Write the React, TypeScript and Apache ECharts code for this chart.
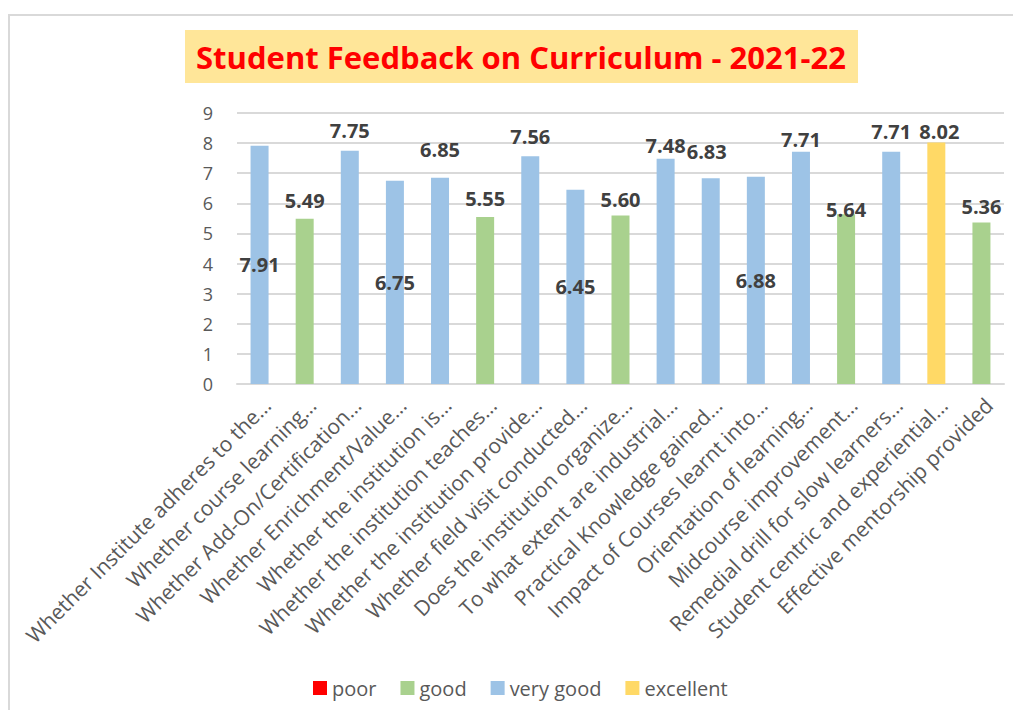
import React, { useEffect, useRef } from "react";
import * as echarts from "echarts";

const categories = [
  "Whether Institute adheres to the…",
  "Whether course learning…",
  "Whether Add-On/Certification…",
  "Whether Enrichment/Value…",
  "Whether the institution is…",
  "Whether the institution teaches…",
  "Whether the institution provide…",
  "Whether field visit conducted…",
  "Does the institution organize…",
  "To what extent are industrial…",
  "Practical Knowledge gained…",
  "Impact of Courses learnt into…",
  "Orientation of learning…",
  "Midcourse improvement…",
  "Remedial drill for slow learners…",
  "Student centric and experiential…",
  "Effective mentorship provided",
];

const scores = [7.91, 5.49, 7.75, 6.75, 6.85, 5.55, 7.56, 6.45, 5.6, 7.48, 6.83, 6.88, 7.71, 5.64, 7.71, 8.02, 5.36];

const ratings = [
  "very good", "good", "very good", "very good", "very good", "good", "very good", "very good",
  "good", "very good", "very good", "very good", "very good", "good", "very good", "excellent", "good",
];

const ratingNames = ["poor", "good", "very good", "excellent"];
const ratingColors = ["#FF0000", "#A9D18E", "#9DC3E6", "#FFD966"];

// label placement: null = centred inside the bar, otherwise [dx, dy] offset above the bar
const labelPlacement: (number[] | null)[] = [
  null, [0, -8], [0, -10], null, [0, -18], [0, -8], [0, -10], null,
  [0, -6], [0, -3], [-4, -17], null, [0, -2], [0, 5], [0, -10], [3, -1], [0, -6],
];

const FONT = "'Open Sans', sans-serif";

export default function App() {
  const ref = useRef<HTMLDivElement>(null);
  useEffect(() => {
    if (!ref.current) return;
    const chart = echarts.init(ref.current, null, { renderer: "svg" });
    const series = ratingNames.map((name, si) => ({
      name,
      type: "bar",
      stack: "total",
      barWidth: 18,
      itemStyle: { color: ratingColors[si] },
      data: scores.map((v, i) => {
        if (ratings[i] !== name) return null;
        const p = labelPlacement[i];
        return {
          value: v,
          label: p
            ? { show: true, position: "top", distance: 0, offset: p }
            : { show: true, position: "inside" },
        };
      }),
      label: {
        show: false,
        formatter: (prm: any) => Number(prm.value).toFixed(2),
        fontFamily: FONT,
        fontSize: 20,
        fontWeight: "bold",
        color: "#404040",
        lineHeight: 20,
      },
    }));
    chart.setOption({
      animation: false,
      textStyle: { fontFamily: FONT },
      graphic: [
        {
          type: "rect",
          silent: true,
          shape: { x: 1, y: 7, width: 3000, height: 3000 },
          style: { fill: "none", stroke: "#D9D9D9", lineWidth: 2 },
        },
        {
          type: "rect",
          silent: true,
          shape: { x: 177, y: 22, width: 673, height: 53 },
          style: { fill: "#FFE699" },
        },
        {
          type: "text",
          silent: true,
          x: 513,
          y: 49,
          style: {
            text: "Student Feedback on Curriculum - 2021-22",
            fill: "#FF0000",
            font: `bold 31px ${FONT}`,
            textAlign: "center",
            textVerticalAlign: "middle",
          },
        },
      ],
      grid: { left: 229, right: 9, top: 105, bottom: 326, containLabel: false },
      legend: {
        data: ratingNames,
        left: 300,
        top: 665,
        icon: "rect",
        itemWidth: 14,
        itemHeight: 14,
        itemGap: 24,
        textStyle: { fontFamily: FONT, fontSize: 20, color: "#595959" },
      },
      xAxis: {
        type: "category",
        data: categories,
        axisLine: { lineStyle: { color: "#D9D9D9", width: 2 } },
        axisTick: { show: false },
        axisLabel: {
          interval: 0,
          rotate: 45,
          fontFamily: FONT,
          fontSize: 21,
          color: "#595959",
          margin: 10,
          verticalAlign: "top",
        },
      },
      yAxis: {
        type: "value",
        min: 0,
        max: 9,
        interval: 1,
        axisLine: { show: false },
        axisTick: { show: false },
        splitLine: { lineStyle: { color: "#D9D9D9", width: 2 } },
        axisLabel: { fontFamily: FONT, fontSize: 18, color: "#595959", margin: 24 },
      },
      series,
    });
    return () => chart.dispose();
  }, []);
  return <div ref={ref} style={{ width: 1005, height: 702 }} />;
}
